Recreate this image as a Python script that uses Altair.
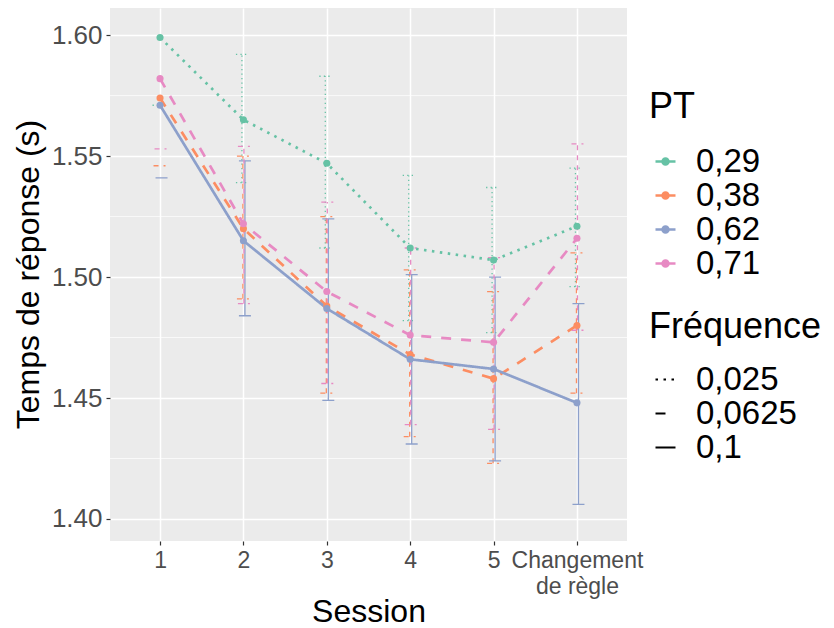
import altair as alt
import pandas as pd

# ---- data ----
sessions = ["1", "2", "3", "4", "5", "Changement\nde règle"]
pt_levels = ["0,29", "0,38", "0,62", "0,71"]
freq_levels = ["0,025", "0,0625", "0,1"]
pt_freq = ["0,025", "0,0625", "0,1", "0,0625"]
pt_colors = ["#66C2A5", "#FC8D62", "#8DA0CB", "#E78AC3"]

mean_029 = [1.599, 1.565, 1.547, 1.512, 1.507, 1.521]
lo_029 = [1.571, 1.539, 1.512, 1.482, 1.477, 1.496]
hi_029 = [None, 1.592, 1.583, 1.542, 1.537, 1.545]

mean_038 = [1.574, 1.520, 1.488, 1.468, 1.458, 1.480]
lo_038 = [1.546, 1.491, 1.452, 1.434, 1.423, 1.452]
hi_038 = [None, 1.550, 1.525, 1.503, 1.494, 1.510]

mean_062 = [1.571, 1.515, 1.487, 1.466, 1.462, 1.448]
lo_062 = [1.541, 1.484, 1.449, 1.431, 1.424, 1.406]
hi_062 = [None, 1.548, 1.524, 1.501, 1.500, 1.489]

mean_071 = [1.582, 1.522, 1.494, 1.476, 1.473, 1.516]
lo_071 = [1.553, 1.489, 1.456, 1.439, 1.437, 1.478]
hi_071 = [None, 1.554, 1.531, 1.512, 1.508, 1.555]

y_breaks = [1.40, 1.45, 1.50, 1.55, 1.60]
y_minor = [1.425, 1.475, 1.525, 1.575]
y_domain = [1.3909, 1.6112]

means = [mean_029, mean_038, mean_062, mean_071]
los = [lo_029, lo_038, lo_062, lo_071]
his = [hi_029, hi_038, hi_062, hi_071]

rows = []
for p, f, m, lo, hi in zip(pt_levels, pt_freq, means, los, his):
    for s, mv, lv, hv in zip(sessions, m, lo, hi):
        rows.append({"Session": s, "PT": p, "Freq": f, "mean": mv, "lo": lv, "hi": hv})
df = pd.DataFrame(rows)

# ---- styling ----
FONT = "Liberation Sans"
line_dash = {"0,025": [2.5, 5.5], "0,0625": [10, 10], "0,1": [1, 0]}
bar_dash = {"0,025": [1.3, 3.2], "0,0625": [5, 5], "0,1": [1, 0]}
dodge = [-1.5, -0.5, 1.5, 0.5]

xscale = alt.Scale(type="point", domain=sessions, padding=0.6)
yscale = alt.Scale(domain=y_domain, nice=False, zero=False)

x_axis = alt.Axis(
    title="Session", labelExpr="split(datum.label, '\\n')", labelAngle=0,
    labelFontSize=23, labelColor="#4D4D4D", labelLineHeight=26, labelPadding=4,
    labelOverlap=False, tickColor="#333333", tickSize=4, tickWidth=1.2,
    domain=False, grid=True, gridColor="white", gridWidth=1.5,
    titleFontSize=32, titleFontWeight="normal", titleColor="black",
    titleY=80, titleBaseline="alphabetic",
)
y_title = "Temps de réponse (s)"
y_axis = alt.Axis(
    title=y_title, values=y_breaks, format=".2f",
    labelFontSize=26, labelColor="#4D4D4D", labelPadding=4,
    tickColor="#333333", tickSize=4, tickWidth=1.2,
    domain=False, grid=True, gridColor="white", gridWidth=1.5,
    titleFontSize=32, titleFontWeight="normal", titleColor="black",
    titleX=-82, titleY=266, titleAngle=-90, titleBaseline="middle", titleAlign="center",
)

X = alt.X("Session:N", scale=xscale, axis=x_axis, sort=sessions)

pt_symbol = "M-1,0L1,0M0.3,0A0.3,0.3,0,1,1,-0.3,0A0.3,0.3,0,1,1,0.3,0Z"
color_legend = alt.Legend(
    title="PT", orient="none", legendX=539, legendY=82,
    titleFontSize=36, titleFontWeight="normal", titleColor="black", titlePadding=19,
    labelFontSize=33, labelColor="black", labelOffset=14, rowPadding=-1,
    symbolType=pt_symbol, symbolSize=400, symbolStrokeWidth=2.5, symbolOpacity=1,
)
color_enc = alt.Color("PT:N", scale=alt.Scale(domain=pt_levels, range=pt_colors), legend=color_legend)

dash_legend = alt.Legend(
    title="Fréquence", orient="none", legendX=539, legendY=302,
    titleFontSize=36, titleFontWeight="normal", titleColor="black", titlePadding=17,
    labelFontSize=33, labelColor="black", labelOffset=14, rowPadding=-1,
    symbolType="stroke", symbolSize=400, symbolStrokeWidth=2, symbolStrokeColor="black",
)
dash_enc = alt.StrokeDash(
    "Freq:N",
    scale=alt.Scale(domain=freq_levels, range=[line_dash[f] for f in freq_levels]),
    legend=dash_legend,
)

base = alt.Chart(df)

layers = []
# minor grid lines
layers.append(
    alt.Chart(pd.DataFrame({"v": y_minor})).mark_rule(color="white", strokeWidth=0.7).encode(
        y=alt.Y("v:Q", scale=yscale, axis=y_axis, title=y_title)
    )
)

# error bars per PT (slightly dodged)
for p, f, c, dx in zip(pt_levels, pt_freq, pt_colors, dodge):
    sub = base.transform_filter(alt.datum.PT == p)
    full = sub.transform_filter("isValid(datum.hi)")
    props = dict(color=c, strokeWidth=1.3, strokeDash=bar_dash[f])
    layers.append(
        full.mark_rule(xOffset=dx, **props).encode(
            x=X, y=alt.Y("lo:Q", scale=yscale, axis=y_axis, title=y_title), y2="hi:Q"
        )
    )
    layers.append(
        sub.mark_rule(xOffset=dx - 6, x2Offset=dx + 6, **props).encode(
            x=X, x2="Session:N", y=alt.Y("lo:Q", scale=yscale, axis=y_axis, title=y_title)
        )
    )
    layers.append(
        full.mark_rule(xOffset=dx - 6, x2Offset=dx + 6, **props).encode(
            x=X, x2="Session:N", y=alt.Y("hi:Q", scale=yscale, axis=y_axis, title=y_title)
        )
    )

# lines
layers.append(
    base.mark_line(strokeWidth=2.7).encode(
        x=X, y=alt.Y("mean:Q", scale=yscale, axis=y_axis, title=y_title),
        color=color_enc, strokeDash=dash_enc, detail="PT:N",
    )
)
# points
layers.append(
    base.mark_circle(size=50, opacity=1).encode(
        x=X, y=alt.Y("mean:Q", scale=yscale, axis=y_axis, title=y_title),
        color=color_enc,
    )
)

chart = alt.layer(*layers).properties(
    width=517, height=533,
    autosize=alt.AutoSizeParams(type="none"),
    padding={"left": 102, "top": 0, "right": 199, "bottom": 87},
).configure(font=FONT).configure_view(fill="#EBEBEB", stroke=None)

chart.save("out.html", embed_options={"renderer": "svg", "actions": False})
